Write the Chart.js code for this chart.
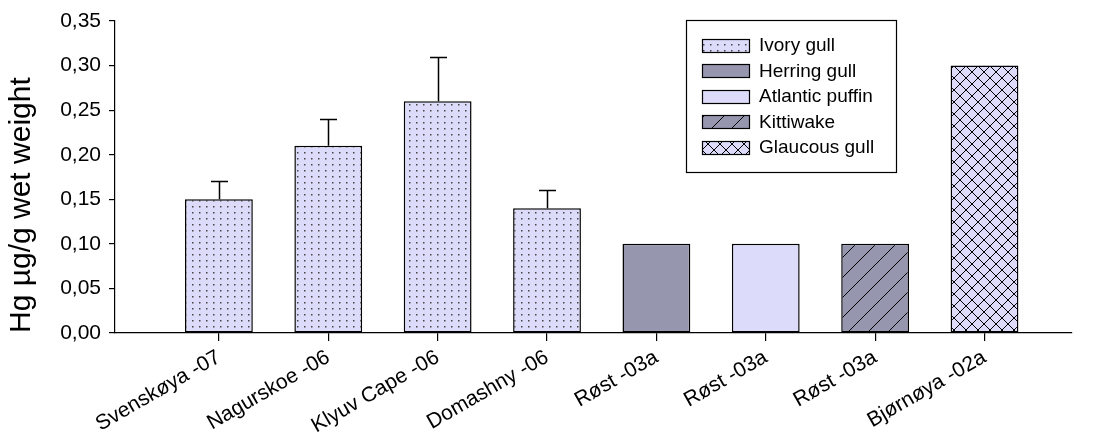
<!DOCTYPE html>
<html>
<head>
<meta charset="utf-8">
<script src="https://cdn.jsdelivr.net/npm/chart.js@4"></script>
<style>
  html, body { margin: 0; padding: 0; background: #fff; }
  #wrap { width: 1109px; height: 436px; }
</style>
</head>
<body>
<div id="wrap"><canvas id="bar_Hg"></canvas></div>
<script>
// data
const sites = ["Svenskøya -07", "Nagurskoe -06", "Klyuv Cape -06", "Domashny -06", "Røst -03a", "Røst -03a", "Røst -03a", "Bjørnøya -02a"];
const species = ["Ivory gull", "Herring gull", "Atlantic puffin", "Kittiwake", "Glaucous gull"];
const speciesOfSite = [0, 0, 0, 0, 1, 2, 3, 4];
const hgMean = [0.15, 0.21, 0.26, 0.14, 0.10, 0.10, 0.10, 0.30];
const hgError = [0.02, 0.03, 0.05, 0.02, 0, 0, 0, 0];
const yTicks = [0, 0.05, 0.10, 0.15, 0.20, 0.25, 0.30, 0.35];

const FONT = "'Liberation Sans', Arial, sans-serif";
const LIGHT = "rgb(220,220,250)";
const GREY = "rgb(150,150,174)";

function makePattern(bg, draw, w, h) {
  const c = document.createElement("canvas");
  c.width = w; c.height = h;
  const g = c.getContext("2d");
  g.fillStyle = bg;
  g.fillRect(0, 0, w, h);
  draw(g, w, h);
  return document.createElement("canvas").getContext("2d").createPattern(c, "repeat");
}

const fills = [
  // dotted
  makePattern(LIGHT, (g) => {
    g.fillStyle = "#444";
    g.fillRect(3, 2, 1.5, 1.5);
  }, 7, 6),
  GREY,
  LIGHT,
  // forward diagonal
  makePattern(GREY, (g, w, h) => {
    g.strokeStyle = "#000";
    g.lineWidth = 1;
    g.beginPath();
    g.moveTo(0, h); g.lineTo(w, 0);
    g.moveTo(-2, 2); g.lineTo(2, -2);
    g.moveTo(w - 2, h + 2); g.lineTo(w + 2, h - 2);
    g.stroke();
  }, 20, 20),
  // cross hatch
  makePattern(LIGHT, (g, w, h) => {
    g.strokeStyle = "#000";
    g.lineWidth = 1;
    g.beginPath();
    g.moveTo(0, 0); g.lineTo(w, h);
    g.moveTo(0, h); g.lineTo(w, 0);
    g.stroke();
  }, 12, 12)
];

const datasets = species.map((name, s) => ({
  label: name,
  data: sites.map((site, i) => ({ x: i, y: hgMean[i] })).filter((p, i) => speciesOfSite[i] === s),
  backgroundColor: fills[s],
  borderColor: "#000",
  borderWidth: 1.5,
  borderSkipped: false,
  barPercentage: 0.62,
  categoryPercentage: 1,
  grouped: false
}));

const errorBars = {
  id: "errorBars",
  afterDatasetsDraw(chart) {
    const ctx = chart.ctx;
    const xs = chart.scales.x, ys = chart.scales.y;
    ctx.save();
    ctx.strokeStyle = "#000";
    ctx.lineWidth = 1.5;
    hgError.forEach((err, i) => {
      if (!err) return;
      const x = Math.round(xs.getPixelForValue(i)) + 0.5;
      const y0 = ys.getPixelForValue(hgMean[i]);
      const y1 = Math.round(ys.getPixelForValue(hgMean[i] + err)) + 0.5;
      ctx.beginPath();
      ctx.moveTo(x, y0);
      ctx.lineTo(x, y1);
      ctx.moveTo(x - 8.5, y1);
      ctx.lineTo(x + 8.5, y1);
      ctx.stroke();
    });
    ctx.restore();
  }
};

const boxLegend = {
  id: "boxLegend",
  afterDraw(chart) {
    const ctx = chart.ctx;
    const left = 686.5, top = 20.5, w = 210, h = 152;
    ctx.save();
    ctx.fillStyle = "#fff";
    ctx.fillRect(left, top, w, h);
    ctx.strokeStyle = "#000";
    ctx.lineWidth = 1.2;
    ctx.strokeRect(left, top, w, h);
    ctx.font = "19px " + FONT;
    ctx.textBaseline = "middle";
    species.forEach((name, s) => {
      const cy = 45 + s * 25.5;
      ctx.fillStyle = fills[s];
      ctx.fillRect(702.5, Math.round(cy - 6.5) + 0.5, 47, 13);
      ctx.strokeRect(702.5, Math.round(cy - 6.5) + 0.5, 47, 13);
      ctx.fillStyle = "#000";
      ctx.fillText(name, 759, cy + 1);
    });
    ctx.restore();
  }
};

const config_Hg = {
  type: "bar",
  data: { datasets: datasets },
  options: {
    responsive: true,
    maintainAspectRatio: false,
    animation: false,
    layout: { padding: { top: 21, right: 37, left: 0, bottom: 0 } },
    plugins: {
      legend: { display: false },
      tooltip: { enabled: false }
    },
    scales: {
      x: {
        type: "linear",
        min: -0.95,
        max: 7.8,
        offset: false,
        afterBuildTicks: (scale) => { scale.ticks = sites.map((s, i) => ({ value: i })); },
        afterFit: (scale) => { scale.height = 103; },
        ticks: {
          autoSkip: false,
          maxRotation: 30,
          minRotation: 30,
          padding: 4,
          color: "#000",
          font: { family: FONT, size: 21 },
          callback: (v) => sites[v]
        },
        grid: { offset: false, drawOnChartArea: false, drawTicks: true, tickLength: 8, color: "#000", lineWidth: 1.2 },
        border: { display: true, color: "#000", width: 1.2 }
      },
      y: {
        min: 0,
        max: 0.35,
        afterBuildTicks: (scale) => { scale.ticks = yTicks.map((v) => ({ value: v })); },
        afterFit: (scale) => { scale.width = 115; },
        ticks: {
          padding: 8,
          color: "#000",
          font: { family: FONT, size: 21 },
          callback: (v) => v.toFixed(2).replace(".", ",")
        },
        grid: { drawOnChartArea: false, drawTicks: true, tickLength: 6, color: "#000", lineWidth: 1.2 },
        border: { display: true, color: "#000", width: 1.2 },
        title: {
          display: true,
          text: "Hg µg/g wet weight",
          align: "start",
          color: "#000",
          font: { family: FONT, size: 30 },
          padding: { top: 4, bottom: 0 }
        }
      }
    }
  },
  plugins: [errorBars, boxLegend]
};

const ctx_Hg = document.getElementById("bar_Hg").getContext("2d");
const myChart_Hg = new Chart(ctx_Hg, config_Hg);
</script>
</body>
</html>
